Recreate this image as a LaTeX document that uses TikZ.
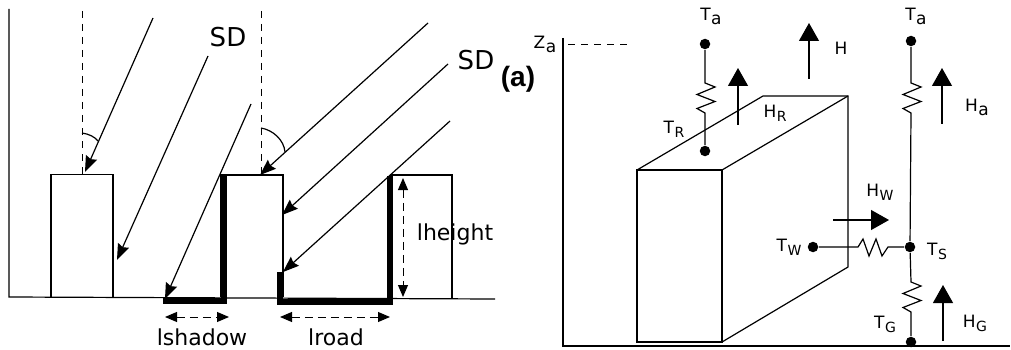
\documentclass[tikz,border=0pt]{standalone}
\usepackage{fontspec}
\setmainfont{DejaVu Sans}
\newfontfamily\labelfont{Liberation Sans}
\usetikzlibrary{arrows.meta}
\newcommand{\lowcap}[2]{#1\kern0.5pt\raisebox{-4pt}{\fontsize{14}{14}\selectfont #2}}
\newcommand{\lowa}[1]{#1\kern0.5pt\raisebox{-4pt}{a}}
\newcommand{\zigv}{-- ++(10,4) -- ++(-18,7.5) -- ++(18,7) -- ++(-18,7) -- ++(8,4.5)}
\newcommand{\zigh}{-- ++(5,-8) -- ++(6,17) -- ++(7,-17) -- ++(6,17) -- ++(6,-9)}
\tikzset{
  wall/.style={line width=1.2pt},
  heated/.style={line width=6pt, line join=miter},
  guide/.style={line width=1pt, dash pattern=on 7pt off 6pt},
  ray/.style={line width=1.2pt, -{Stealth[length=16pt,width=12pt,inset=2pt]}},
  span/.style={line width=1pt, dash pattern=on 8pt off 5pt, {Triangle[length=12pt,width=10pt]}-{Triangle[length=12pt,width=10pt]}},
  flux/.style={line width=1.2pt, -{Triangle[length=18pt,width=20pt]}},
  dot/.style={circle, fill=black, minimum size=10.5pt, inner sep=0pt},
  big/.style={font=\fontsize{26}{26}\selectfont},
  small/.style={font=\fontsize{22}{22}\selectfont},
  tag/.style={font=\fontsize{17}{17}\selectfont, inner sep=0pt}
}
\begin{document}
\begin{tikzpicture}[x=1pt, y=-1pt, line width=1.2pt]
\useasboundingbox (0,0) rectangle (1011,350);
% canyon
\draw[wall] (9,9) -- (9,297) -- (495,299);
\draw[wall] (51,297) -- (51,174.5) -- (113,174.5) -- (113,297);
\draw[wall] (221,297) -- (221,175) -- (283,175) -- (283,297);
\draw[wall] (390,175) -- (452,175) -- (452,299);
\draw[heated] (224,176) -- (224,300.5) -- (163,300.5);
\draw[heated] (280,272) -- (280,302) -- (390,302) -- (390,176);
\draw[guide] (82,11) -- (82,174);
\draw[guide] (261,11) -- (261,175);
\draw (82,133) .. controls (89,134) and (95,137) .. (98,141);
\draw (261,128) .. controls (273,130) and (284,140) .. (285,152);
\coordinate (r1a) at (153,18);  \coordinate (r1b) at (85,172);
\coordinate (r2a) at (208,56);  \coordinate (r2b) at (117,260);
\coordinate (r3a) at (251,104); \coordinate (r3b) at (165,299);
\coordinate (r4a) at (428,23);  \coordinate (r4b) at (260,175);
\coordinate (r5a) at (448,64);  \coordinate (r5b) at (282,215);
\coordinate (r6a) at (450,121); \coordinate (r6b) at (283,272);
\path[ray]
  (r1a) edge (r1b)
  (r2a) edge (r2b)
  (r3a) edge (r3b)
  (r4a) edge (r4b)
  (r5a) edge (r5b)
  (r6a) edge (r6b);
\coordinate (sa) at (165,317); \coordinate (sb) at (229,317);
\coordinate (ra) at (280,317); \coordinate (rb) at (390,317);
\coordinate (ha) at (403,178); \coordinate (hb) at (403,297);
\draw[span] (sa) -- (sb);
\draw[span] (ra) -- (rb);
\draw[span] (ha) -- (hb);
\node[big] (sd1) at (228,37) {SD};
\node[big] (sd2) at (476,60) {SD};
\node[font=\labelfont\bfseries\fontsize{28}{28}\selectfont] (panel) at (518,79) {(a)};
\node[small] (lshadow) at (202,337) {lshadow};
\node[small] (lroad) at (336,337) {lroad};
\node[small] (lheight) at (455,234) {lheight};
% block
\draw[wall] (563,38) -- (563,346) -- (1010,346);
\draw[guide] (568,45) -- (627,45);
\draw[wall] (637,170) rectangle (722,342);
\draw[wall] (637,170) -- (763,96) -- (848,96) -- (848,267) -- (722,342);
\draw[wall] (722,170) -- (848,96);
% network
\node[dot] (taL) at (705,44) {};
\node[dot] (trL) at (705,151) {};
\node[dot] (taR) at (911,41) {};
\node[dot] (tsR) at (910,247) {};
\node[dot] (tgR) at (911,342) {};
\node[dot] (twL) at (813,247) {};
\draw[wall] (taL) -- ++(0,39) \zigv -- (trL);
\draw[wall] (taR) -- ++(0,42) \zigv -- (tsR);
\draw[wall] (tsR) -- ++(1,35) \zigv -- (tgR);
\draw[wall] (twL) -- (858,247) \zigh -- (tsR);
\coordinate (fr0) at (738,125); \coordinate (fr1) at (738,68);
\coordinate (f0) at (809,79);   \coordinate (f1) at (809,23);
\coordinate (fa0) at (942,124); \coordinate (fa1) at (942,68);
\coordinate (fg0) at (943,341); \coordinate (fg1) at (943,285);
\coordinate (fw0) at (833,220); \coordinate (fw1) at (889,220);
\path[flux]
  (fr0) edge (fr1)
  (f0) edge (f1)
  (fa0) edge (fa1)
  (fg0) edge (fg1)
  (fw0) edge (fw1);
\node[tag] (zaL) at (545,44) {\lowa{Z}};
\node[tag] (taT) at (711,16) {\lowa{T}};
\node[tag] (taS) at (916,16) {\lowa{T}};
\node[tag] (trT) at (674,129) {\lowcap{T}{R}};
\node[tag] (hT) at (841,48) {H};
\node[tag] (hrT) at (775,113) {\lowcap{H}{R}};
\node[tag] (haT) at (977,107) {\lowa{H}};
\node[tag] (hwT) at (880,192) {\lowcap{H}{W}};
\node[tag] (twT) at (789,247) {\lowcap{T}{W}};
\node[tag] (tsT) at (937,251) {\lowcap{T}{S}};
\node[tag] (tgT) at (885,324) {\lowcap{T}{G}};
\node[tag] (hgT) at (975,323) {\lowcap{H}{G}};
\end{tikzpicture}
\end{document}
